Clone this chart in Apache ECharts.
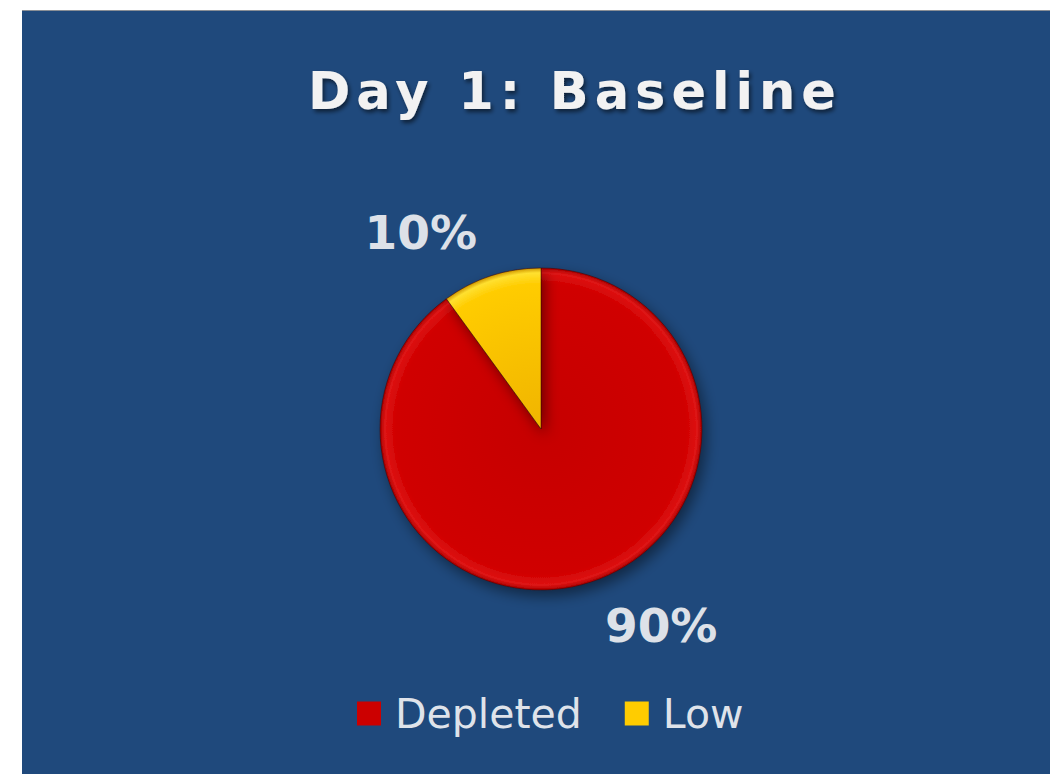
<!DOCTYPE html>
<html>
<head>
<meta charset="utf-8">
<script src="https://cdn.jsdelivr.net/npm/echarts@6/dist/echarts.min.js"></script>
<style>
html,body{margin:0;padding:0;background:#fff;width:1050px;height:774px;overflow:hidden;}
#c{position:absolute;left:22px;top:10px;width:1028px;height:764px;background:#1f497c;border-top:1px solid #8a8f96;box-sizing:border-box;}
</style>
</head>
<body>
<div id="c"></div>
<script>
const titleText = 'Day 1: Baseline';
const categories = ['Depleted', 'Low'];
const values = [90, 10];
const colors = ['#cc0000', '#ffcc00'];

const chart = echarts.init(document.getElementById('c'), null, {renderer: 'svg'});
const CX = 519, CY = 418, R = 161;
const redGrad = new echarts.graphic.RadialGradient(CX, CY, R, [
  {offset: 0, color: '#c60000'}, {offset: 0.9, color: '#d00000'}, {offset: 0.97, color: '#de1414'}, {offset: 1, color: '#a80000'}
], true);
const yelGrad = new echarts.graphic.RadialGradient(CX, CY, R, [
  {offset: 0, color: '#f0b400'}, {offset: 0.9, color: '#ffcc00'}, {offset: 0.97, color: '#ffe030'}, {offset: 1, color: '#d09800'}
], true);
const fills = [redGrad, yelGrad];

chart.setOption({
  backgroundColor: '#1f497c',
  animation: false,
  title: {
    text: titleText,
    left: 281, top: 50,
    textStyle: {
      fontFamily: 'DejaVu Sans', fontWeight: 'bold', fontSize: 51, color: '#f2f2f2',
      textShadowColor: 'rgba(0,0,0,0.55)', textShadowBlur: 4, textShadowOffsetX: 2, textShadowOffsetY: 3
    }
  },
  legend: {
    data: categories.map((n, i) => ({name: n, itemStyle: {color: colors[i], borderWidth: 0}})),
    left: 335, top: 682, padding: 0,
    icon: 'rect', itemWidth: 24, itemHeight: 24, itemGap: 43,
    textStyle: {fontFamily: 'DejaVu Sans', fontSize: 41, color: '#dfe3ea', padding: [0,0,0,9]}
  },
  series: [{
    type: 'pie',
    center: [CX, CY],
    radius: R,
    startAngle: 90,
    clockwise: true,
    data: categories.map((n, i) => ({
      name: n, value: values[i],
      itemStyle: {color: fills[i]}
    })),
    itemStyle: {
      borderColor: 'rgba(60,0,0,0.5)', borderWidth: 1,
      shadowColor: 'rgba(0,0,0,0.45)', shadowBlur: 14, shadowOffsetX: 4, shadowOffsetY: 6
    },
    label: {
      show: true, position: 'outside',
      formatter: p => p.value + '%',
      fontFamily: 'DejaVu Sans', fontWeight: 'bold', fontSize: 47, color: '#dde1e8',
      distanceToLabelLine: 0
    },
    labelLine: {show: false, length: 46, length2: 0},
    emphasis: {disabled: true}
  }]
});

function spaceTitle() {
  document.querySelectorAll('#c svg text').forEach(t => {
    if (t.textContent === titleText) {
      t.style.letterSpacing = '6px';
    }
  });
}
chart.on('finished', spaceTitle);
spaceTitle();
setTimeout(spaceTitle, 50);
</script>
</body>
</html>
